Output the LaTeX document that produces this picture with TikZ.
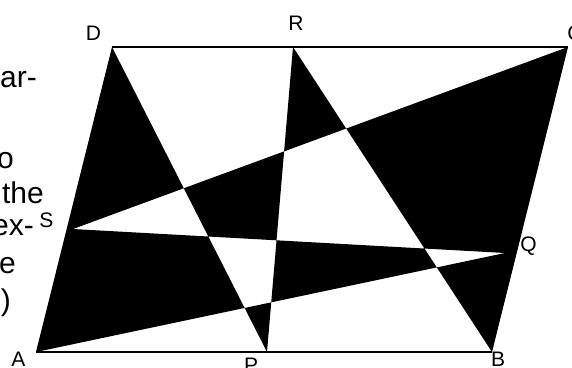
\documentclass[tikz,border=0pt]{standalone}
\usepackage{fontspec}
\setmainfont{Liberation Sans}
\begin{document}
\begin{tikzpicture}[x=1pt,y=-1pt,
  lbl/.style={inner sep=0pt,anchor=base,font=\fontsize{21}{25}\selectfont},
  side/.style={inner sep=0pt,anchor=base east,font=\fontsize{30}{36}\selectfont},
  edgeline/.style={line width=2.6pt}]
\useasboundingbox (0,0) rectangle (572,367);
% corner and division points
\coordinate (A) at (36,352);
\coordinate (B) at (492,352);
\coordinate (C) at (568,47);
\coordinate (D) at (112,47);
\coordinate (P) at (267,352);
\coordinate (R) at (293,47);
\coordinate (S) at (73,229);
\coordinate (Q) at (505,253);
\coordinate (Qe) at (516.7,253);
% checkerboard fill
\fill[black,even odd rule]
  (A)--(B)--(C)--(D)--cycle
  (D)--(P)--(R)--cycle
  (R)--(B)--(C)--cycle
  (C)--(S)--(Q)--(Qe)--cycle
  (A)--(B)--(Qe)--(Q)--cycle;
\draw[edgeline] (D)--(C);
\draw[edgeline] (A)--(B);
% labels
\node[lbl] (lD) at (93.5,40) {D};
\node[lbl] (lR) at (296,30) {R};
\node[lbl] (lC) at (575,40) {C};
\node[lbl] (lS) at (46.5,227) {S};
\node[lbl] (lQ) at (528.5,251) {Q};
\node[lbl] (lA) at (18.5,366.5) {A};
\node[lbl] (lB) at (498,366.5) {B};
\node[lbl] (lP) at (251,372) {P};
% cut-off text at the left
\node[side] (t1) at (37,87) {ar-};
\node[side] (t2) at (14,168) {o};
\node[side] (t3) at (44,203) {the};
\node[side] (t4) at (34,235) {ex-};
\node[side] (t5) at (16,273) {e};
\node[side] (t6) at (11,310) {)};
\end{tikzpicture}
\end{document}
